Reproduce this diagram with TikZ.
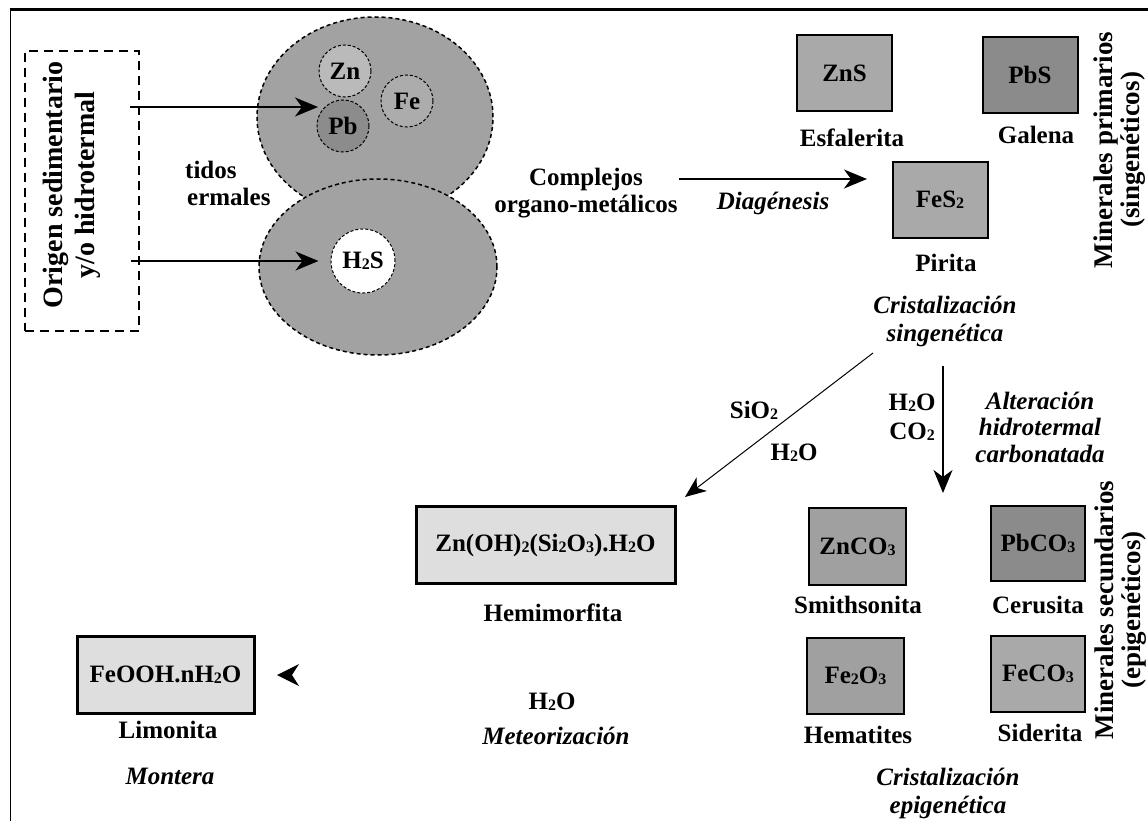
\documentclass[tikz,border=0pt]{standalone}
\usepackage{fontspec}
\setmainfont{Liberation Serif}
\usetikzlibrary{shapes.geometric,arrows.meta}
\definecolor{blobgray}{RGB}{162,162,162}
\definecolor{zncol}{RGB}{186,186,186}
\definecolor{pbcol}{RGB}{140,140,140}
\definecolor{fecol}{RGB}{172,172,172}
\definecolor{boxA}{RGB}{169,169,169}
\definecolor{boxB}{RGB}{139,139,139}
\definecolor{boxC}{RGB}{160,160,160}
\definecolor{boxlight}{RGB}{222,222,222}
\newcommand{\sbs}[1]{\raisebox{-1pt}{\fontsize{16}{16}\selectfont #1}}
\tikzset{
  lab/.style={inner sep=0pt, font=\fontsize{25}{27}\selectfont\bfseries, align=center},
  ital/.style={inner sep=0pt, font=\fontsize{25}{28}\selectfont\bfseries\itshape, align=center},
  mbox/.style={draw, line width=2pt, inner sep=0pt, minimum width=95pt, minimum height=76pt,
    font=\fontsize{25}{27}\selectfont\bfseries},
  lbox/.style={mbox, line width=3pt, fill=boxlight, minimum height=77pt},
  bigtxt/.style={inner sep=0pt, font=\fontsize{27}{27}\selectfont\bfseries, align=center, rotate=90},
  arr/.style={line width=1.5pt, -{Stealth[length=23pt,width=19pt,inset=7pt]}},
  thinarr/.style={line width=1pt, -{Stealth[length=21pt,width=17pt,inset=6pt]}},
  blob/.style={ellipse, draw, dash pattern=on 4pt off 3pt, line width=1.5pt, fill=blobgray, inner sep=0pt},
  elem/.style={circle, draw, dash pattern=on 3pt off 2pt, line width=1pt, inner sep=0pt,
    font=\fontsize{25}{27}\selectfont\bfseries}
}
\begin{document}
\begin{tikzpicture}[x=1pt,y=-1pt]
\useasboundingbox (0,0) rectangle (1148,821);
\fill[white] (0,0) rectangle (1148,821);
% frame
\draw[line width=3pt] (9.5,10) -- (1148,10);
\draw[line width=1.8pt] (10.5,10) -- (10.5,821);

% origin box
\node[draw, dash pattern=on 9pt off 6pt, line width=2.5pt, minimum width=114pt, minimum height=280pt, inner sep=0pt] (orig) at (82,191) {};
\node[bigtxt, font=\fontsize{28}{32}\selectfont\bfseries] (origt) at (72,185) {Origen sedimentario\\y/o hidrotermal};

% blobs
\node[blob, minimum width=236pt, minimum height=200pt] (up) at (375,117) {};
\node[blob, minimum width=238pt, minimum height=176pt] (low) at (378,267) {};
\node[elem, fill=zncol, minimum size=52pt] (Zn) at (345,71) {Zn};
\node[elem, fill=pbcol, minimum size=52pt] (Pb) at (343,126) {Pb};
\node[elem, fill=fecol, minimum size=52pt] (Fe) at (407,101) {Fe};
\node[elem, fill=white, minimum size=64pt] (H2S) at (363,261) {H\sbs{2}S};

\coordinate (s1) at (130,107);
\coordinate (t1) at (318,107);
\draw[arr] (s1) -- (t1);
\draw[arr] ([xshift=-9pt]orig.east |- H2S) -- ([xshift=-12pt]H2S.west);

\node[lab, anchor=west, align=left] (fluid) at (185,183.5) {tidos\\\hspace*{2pt}ermales};

% complejos
\node[lab] (compl) at (586,193.5) {Complejos\\organo-metálicos};
\coordinate (d1) at (679,179);
\coordinate (d2) at (867,179);
\draw[arr] (d1) -- (d2);
\node[ital] (diag) at (773,203) {Diagénesis};

% primary minerals
\node[mbox, fill=boxA] (ZnS) at (844.5,73.5) {ZnS};
\node[lab] (esf) at (852,138) {Esfalerita};
\node[mbox, fill=boxB] (PbS) at (1030,75) {PbS};
\node[lab] (gal) at (1036,135) {Galena};
\node[mbox, fill=boxA] (FeS2) at (940,200) {FeS\sbs{2}};
\node[lab] (pir) at (946,263) {Pirita};
\node[bigtxt] (mprim) at (1120,150) {Minerales primarios\\(singenéticos)};
\node[ital] (crsin) at (945,321) {Cristalización\\singenética};

% arrows down
\coordinate (a1) at (873,353);
\coordinate (a2) at (685,497);
\draw[thinarr] (a1) -- (a2);
\node[lab] (sio2) at (754,410) {SiO\sbs{2}};
\node[lab] (h2oa) at (794,453) {H\sbs{2}O};

\coordinate (b1) at (943,366);
\coordinate (b2) at (943,493);
\draw[arr] (b1) -- (b2);
\node[lab] (h2ob) at (912,403) {H\sbs{2}O};
\node[lab] (co2) at (912,432) {CO\sbs{2}};
\node[ital, font=\fontsize{25}{26.5}\selectfont\bfseries\itshape] (alt) at (1040,427) {Alteración\\hidrotermal\\carbonatada};

% hemimorfita
\node[lbox, minimum width=259pt] (hemi) at (545.5,545) {Zn(OH)\sbs{2}(Si\sbs{2}O\sbs{3}).H\sbs{2}O};
\node[lab] (hemil) at (553,613) {Hemimorfita};
\node[lab] (h2oc) at (552,702) {H\sbs{2}O};
\node[ital] (meteo) at (556,736) {Meteorización};

% limonita
\node[lbox, minimum width=177pt] (lim) at (165.5,674.5) {FeOOH.nH\sbs{2}O};
\node[lab] (liml) at (168,730) {Limonita};
\node[ital] (mont) at (170,776) {Montera};
\fill (277,675) -- (299,664) -- (292,675) -- (299,686) -- cycle;

% secondary minerals
\node[mbox, fill=boxC, minimum width=97pt, minimum height=77pt] (ZnCO3) at (857.5,546.5) {ZnCO\sbs{3}};
\node[lab] (smi) at (858,605) {Smithsonita};
\node[mbox, fill=boxB, minimum width=94pt, minimum height=75pt] (PbCO3) at (1038,543.5) {PbCO\sbs{3}};
\node[lab] (cer) at (1038,605) {Cerusita};
\node[mbox, fill=boxC, minimum width=97pt] (Fe2O3) at (855.5,676) {Fe\sbs{2}O\sbs{3}};
\node[lab] (hem) at (858,735) {Hematites};
\node[mbox, fill=boxA, minimum width=94pt] (FeCO3) at (1038,674) {FeCO\sbs{3}};
\node[lab] (sid) at (1040,733) {Siderita};
\node[bigtxt] (msec) at (1121,610) {Minerales secundarios\\(epigenéticos)};
\node[ital] (crepi) at (948,793.5) {Cristalización\\epigenética};
\end{tikzpicture}
\end{document}
